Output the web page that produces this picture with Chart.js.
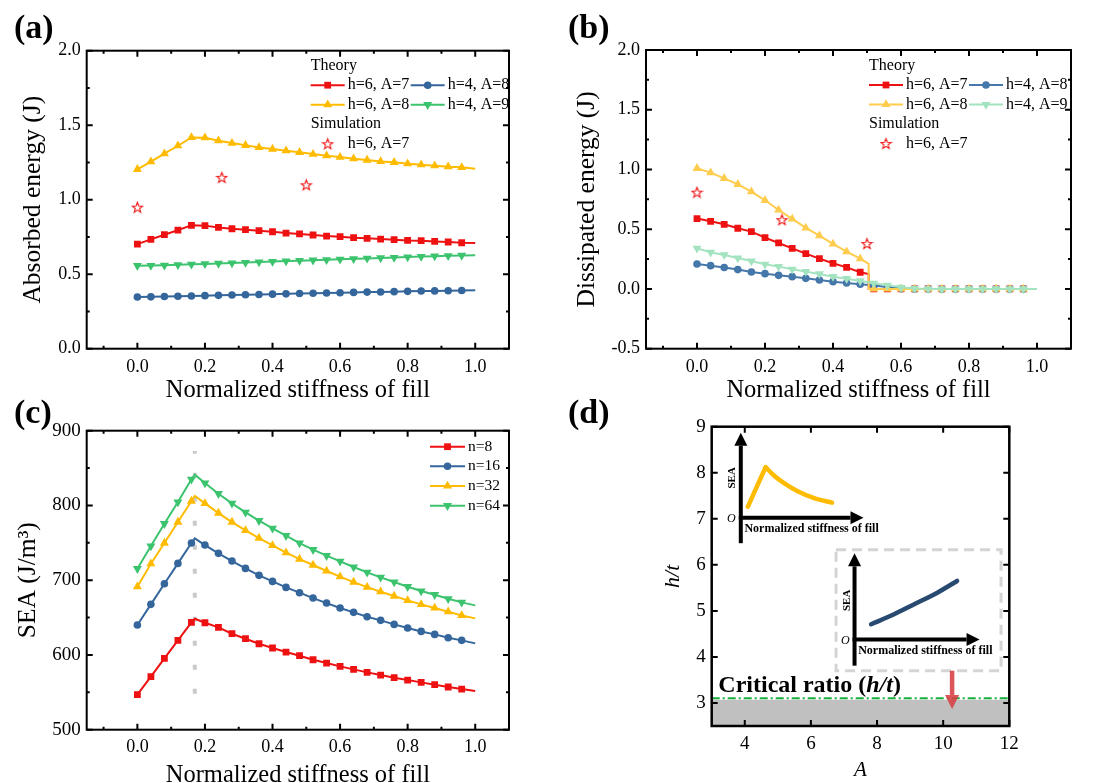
<!DOCTYPE html>
<html>
<head>
<meta charset="utf-8">
<script src="https://cdn.jsdelivr.net/npm/chart.js@4.4.1/dist/chart.umd.min.js"></script>
<style>
  body { margin: 0; background: #fff; }
  #wrap { position: relative; width: 1097px; height: 783px; overflow: hidden; }
  canvas { position: absolute; }
</style>
</head>
<body>
<div id="wrap">
  <canvas id="chartA" width="548" height="410" style="left:0;top:0"></canvas>
  <canvas id="chartB" width="549" height="410" style="left:548px;top:0"></canvas>
  <canvas id="chartC" width="548" height="410" style="left:0;top:390px"></canvas>
  <canvas id="chartD" width="549" height="410" style="left:548px;top:390px"></canvas>
</div>
<script>
// ---------- data ----------
// (a) absorbed energy, markers every 0.04, line to 1.0
const stiffA = [0, 0.04, 0.08, 0.12, 0.16, 0.2, 0.24, 0.28, 0.32, 0.36, 0.4, 0.44, 0.48,
  0.52, 0.56, 0.6, 0.64, 0.68, 0.72, 0.76, 0.8, 0.84, 0.88, 0.92, 0.96, 1.0];
const absH6A7 = [0.702, 0.734, 0.765, 0.796, 0.828, 0.826, 0.814, 0.805, 0.799, 0.792, 0.785, 0.776, 0.770,
  0.763, 0.756, 0.752, 0.745, 0.741, 0.736, 0.732, 0.727, 0.725, 0.720, 0.716, 0.711, 0.709];
const absH4A8 = [0.347, 0.348, 0.350, 0.352, 0.354, 0.356, 0.358, 0.360, 0.362, 0.364, 0.366, 0.368, 0.370,
  0.372, 0.374, 0.376, 0.378, 0.380, 0.381, 0.383, 0.385, 0.387, 0.388, 0.389, 0.391, 0.392];
const absH6A8 = [1.204, 1.255, 1.309, 1.362, 1.418, 1.416, 1.396, 1.380, 1.365, 1.351, 1.340, 1.329, 1.318,
  1.306, 1.295, 1.286, 1.275, 1.266, 1.257, 1.251, 1.242, 1.235, 1.228, 1.221, 1.217, 1.208];
const absH4A9 = [0.557, 0.558, 0.560, 0.563, 0.566, 0.569, 0.572, 0.575, 0.578, 0.582, 0.585, 0.588, 0.591,
  0.594, 0.597, 0.600, 0.603, 0.606, 0.609, 0.612, 0.615, 0.618, 0.621, 0.623, 0.626, 0.628];
const simStiff = [0, 0.25, 0.5];
const simAbs = [0.95, 1.15, 1.10];

// (b) dissipated energy, step drop near 0.505
const stiffB = [0, 0.04, 0.08, 0.12, 0.16, 0.2, 0.24, 0.28, 0.32, 0.36, 0.4, 0.44, 0.48, 0.505, 0.505,
  0.52, 0.56, 0.6, 0.64, 0.68, 0.72, 0.76, 0.8, 0.84, 0.88, 0.92, 0.96, 1.0];
const disH6A7 = [0.589, 0.566, 0.541, 0.508, 0.480, 0.430, 0.385, 0.340, 0.296, 0.254, 0.215, 0.181, 0.140, 0.125, 0,
  0, 0, 0, 0, 0, 0, 0, 0, 0, 0, 0, 0, 0];
const disH4A8 = [0.209, 0.195, 0.179, 0.162, 0.142, 0.128, 0.114, 0.103, 0.089, 0.075, 0.061, 0.050, 0.039, 0.033, 0.033,
  0.028, 0.017, 0.003, 0, 0, 0, 0, 0, 0, 0, 0, 0, 0];
const disH6A8 = [1.010, 0.974, 0.926, 0.876, 0.815, 0.742, 0.661, 0.586, 0.511, 0.446, 0.377, 0.312, 0.254, 0.210, 0,
  0, 0, 0, 0, 0, 0, 0, 0, 0, 0, 0, 0, 0];
const disH4A9 = [0.340, 0.307, 0.285, 0.259, 0.234, 0.206, 0.187, 0.165, 0.145, 0.126, 0.103, 0.086, 0.067, 0.056, 0.056,
  0.047, 0.031, 0.014, 0.003, 0, 0, 0, 0, 0, 0, 0, 0, 0];
const simDis = [0.81, 0.58, 0.38];

// (c) SEA for n = 8..64, peak at 0.17
const stiffC = [0, 0.04, 0.08, 0.12, 0.16, 0.17, 0.2, 0.24, 0.28, 0.32, 0.36, 0.4, 0.44, 0.48,
  0.52, 0.56, 0.6, 0.64, 0.68, 0.72, 0.76, 0.8, 0.84, 0.88, 0.92, 0.96, 1.0];
const seaN8 = [546.8, 570.9, 595.4, 619.5, 643.6, 648.5, 643.1, 636.9, 628.4, 621.7, 615.0, 609.3, 603.9, 599.0,
  593.6, 589.2, 584.7, 580.7, 576.7, 573.1, 569.6, 566.4, 563.3, 560.2, 557.1, 554.4, 551.7];
const seaN16 = [640.0, 667.7, 695.3, 722.5, 749.7, 756.0, 747.0, 735.9, 725.6, 715.8, 706.5, 698.4, 690.4, 683.3,
  676.1, 669.4, 662.8, 657.0, 651.2, 646.3, 640.9, 636.0, 631.5, 627.5, 623.1, 619.5, 615.5];
const seaN32 = [691.3, 722.1, 749.7, 777.8, 805.9, 812.6, 802.8, 789.8, 777.8, 766.6, 756.4, 746.6, 736.8, 728.3,
  720.3, 712.3, 704.7, 697.5, 690.8, 684.6, 678.8, 673.0, 667.7, 662.8, 657.8, 652.9, 648.9];
const seaN64 = [715.4, 745.7, 775.6, 804.6, 834.9, 841.1, 830.0, 815.7, 802.8, 790.7, 779.6, 769.3, 759.5, 749.7,
  740.8, 732.8, 725.2, 717.6, 710.5, 703.8, 697.5, 691.3, 685.5, 680.6, 675.2, 670.3, 666.3];
const peakStiff = 0.17;
const peakGuide = [548, 873];

// (d) h/t vs A map
const critRatio = 3.1;
const critShade = 3.07;
const inset1RiseA = [4.09, 4.63];
const inset1RiseSEA = [7.26, 8.12];
const inset1DecayA = [4.63, 4.9, 5.2, 5.6, 6.1, 6.64];
const inset1DecaySEA = [8.12, 7.93, 7.77, 7.60, 7.45, 7.35];
const inset2A = [7.82, 8.50, 9.11, 9.81, 10.42];
const inset2SEA = [4.71, 4.92, 5.14, 5.39, 5.65];

// tick labels
const ticksStiff = [0, 0.2, 0.4, 0.6, 0.8, 1.0];
const ticksAbs = [0, 0.5, 1.0, 1.5, 2.0];
const ticksDis = [-0.5, 0, 0.5, 1.0, 1.5, 2.0];
const ticksSEA = [500, 600, 700, 800, 900];
const ticksA = [4, 6, 8, 10, 12];
const ticksHt = [3, 4, 5, 6, 7, 8, 9];

// ---------- helpers ----------
const F = 'Liberation Serif';
Chart.defaults.font.family = F;
Chart.defaults.color = '#000';

const isMarker = x => x < 0.99 && Math.abs(x * 25 - Math.round(x * 25)) < 1e-6;
const RAD = { rect: 4.8, circle: 3.8, triangle: 5.2 };

function starImage(size, color) {
  const c = document.createElement('canvas');
  c.width = c.height = size;
  const g = c.getContext('2d');
  const R = size / 2 - 1, r = R * 0.42, cx = size / 2, cy = size / 2 + 0.6;
  g.strokeStyle = color; g.lineWidth = 1.1;
  g.beginPath();
  for (let i = 0; i < 10; i++) {
    const a = -Math.PI / 2 + i * Math.PI / 5, rr = i % 2 ? r : R;
    g.lineTo(cx + rr * Math.cos(a), cy + rr * Math.sin(a));
  }
  g.closePath(); g.stroke();
  return c;
}
const star = starImage(13, '#ee1111');

function series(label, xs, ys, color, style, rot, order) {
  return {
    label, order,
    data: xs.map((x, i) => ({ x, y: ys[i] })),
    borderColor: color, backgroundColor: color, borderWidth: 2,
    pointStyle: style, pointRotation: rot || 0,
    pointRadius: c => isMarker(xs[c.dataIndex]) ? RAD[style] : 0,
    pointBorderWidth: 0, pointBackgroundColor: color, tension: 0
  };
}
function simSeries(label, xs, ys) {
  return {
    label, order: 0, showLine: false,
    data: xs.map((x, i) => ({ x, y: ys[i] })),
    pointStyle: star, pointRadius: 6, borderColor: '#ee1111', backgroundColor: '#ee1111'
  };
}
function sketch(label, xs, ys, color, smooth) {
  return {
    label, order: 3, data: xs.map((a, i) => ({ x: a, y: ys[i] })),
    borderColor: color, borderWidth: 4.5, borderCapStyle: 'round', pointRadius: 0,
    cubicInterpolationMode: smooth ? 'monotone' : 'default', tension: smooth ? 0.4 : 0
  };
}

function axis(o) {
  return {
    type: 'linear', min: o.min, max: o.max,
    afterBuildTicks: s => { s.ticks = o.ticks.map(v => ({ value: v })); },
    afterFit: s => { if (s.isHorizontal()) s.height = o.size; else s.width = o.size; },
    grid: { display: false, drawTicks: false },
    border: { display: false },
    ticks: { font: { size: o.tickSize || 18 }, padding: o.tickPad, callback: o.fmt, color: '#000' },
    title: { display: true, text: o.title, font: o.titleFont, padding: o.titlePad, color: '#000' }
  };
}

// box frame with inward ticks on all four sides
const frame = {
  id: 'frame',
  afterDatasetsDraw(chart, args, opts) {
    const { ctx, chartArea: a, scales: { x, y } } = chart;
    ctx.save();
    ctx.strokeStyle = '#000';
    ctx.lineWidth = opts.width;
    ctx.strokeRect(a.left, a.top, a.right - a.left, a.bottom - a.top);
    ctx.lineWidth = opts.tickWidth;
    const mark = (scale, vals, len) => vals.forEach(v => {
      const p = scale.getPixelForValue(v);
      ctx.beginPath();
      if (scale === x) {
        ctx.moveTo(p, a.bottom); ctx.lineTo(p, a.bottom - len);
        ctx.moveTo(p, a.top); ctx.lineTo(p, a.top + len);
      } else {
        ctx.moveTo(a.left, p); ctx.lineTo(a.left + len, p);
        ctx.moveTo(a.right, p); ctx.lineTo(a.right - len, p);
      }
      ctx.stroke();
    });
    mark(x, x.ticks.map(t => t.value), opts.len);
    mark(y, y.ticks.map(t => t.value), opts.len);
    mark(x, opts.xMinor || [], opts.minorLen);
    mark(y, opts.yMinor || [], opts.minorLen);
    ctx.restore();
  }
};

// legend drawn from the datasets' own styles
const legendBox = {
  id: 'legendBox',
  afterDraw(chart, args, opts) {
    if (!opts.items) return;
    const { ctx, chartArea: a } = chart;
    ctx.save();
    ctx.font = opts.font; ctx.textBaseline = 'middle'; ctx.fillStyle = '#000';
    (opts.headers || []).forEach(h => ctx.fillText(h.text, a.left + h.dx, a.top + h.dy));
    opts.items.forEach(it => {
      const ds = chart.data.datasets[it.i];
      const x0 = a.left + it.dx, y0 = a.top + it.dy, xm = x0 + opts.sample / 2;
      if (ds.showLine !== false) {
        ctx.strokeStyle = ds.borderColor; ctx.lineWidth = ds.borderWidth;
        ctx.beginPath(); ctx.moveTo(x0, y0); ctx.lineTo(x0 + opts.sample, y0); ctx.stroke();
      }
      ctx.fillStyle = ds.backgroundColor;
      const r = typeof ds.pointStyle === 'string' ? RAD[ds.pointStyle] : ds.pointRadius;
      Chart.helpers.drawPoint(ctx, { pointStyle: ds.pointStyle, rotation: ds.pointRotation || 0, radius: r, borderWidth: 0 }, xm, y0);
      ctx.fillStyle = '#000';
      ctx.fillText(ds.label, x0 + opts.sample + opts.gap, y0);
    });
    ctx.restore();
  }
};

const panelTag = {
  id: 'panelTag',
  afterDraw(chart, args, opts) {
    const ctx = chart.ctx;
    ctx.save();
    ctx.font = 'bold 34px "' + F + '"';
    ctx.textBaseline = 'middle'; ctx.fillStyle = '#000';
    ctx.fillText(opts.text, opts.x, opts.y);
    ctx.restore();
  }
};

function arrow(ctx, x0, y0, x1, y1, w, hl, hw, color) {
  const ang = Math.atan2(y1 - y0, x1 - x0), c = Math.cos(ang), s = Math.sin(ang);
  const bx = x1 - hl * c, by = y1 - hl * s;
  ctx.strokeStyle = color; ctx.fillStyle = color; ctx.lineWidth = w; ctx.lineCap = 'butt';
  ctx.beginPath(); ctx.moveTo(x0, y0); ctx.lineTo(bx, by); ctx.stroke();
  ctx.beginPath(); ctx.moveTo(x1, y1);
  ctx.lineTo(bx - hw * s, by + hw * c); ctx.lineTo(bx + hw * s, by - hw * c);
  ctx.closePath(); ctx.fill();
}

// sketch insets, arrow and caption of panel (d)
const decorD = {
  id: 'decorD',
  beforeDatasetsDraw(chart) {
    const { ctx, scales: { x, y } } = chart;
    const px = v => x.getPixelForValue(v), py = v => y.getPixelForValue(v);
    ctx.save();
    ctx.setLineDash([10, 6]); ctx.strokeStyle = '#d4d4d4'; ctx.lineWidth = 3;
    ctx.strokeRect(px(6.76), py(6.33), px(11.75) - px(6.76), py(3.70) - py(6.33));
    ctx.restore();
  },
  afterDatasetsDraw(chart) {
    const { ctx, scales: { x, y } } = chart;
    const px = v => x.getPixelForValue(v), py = v => y.getPixelForValue(v);
    ctx.save();
    arrow(ctx, px(3.88), py(6.47), px(3.88), py(8.87), 4, 13, 6.5, '#000');
    arrow(ctx, px(3.88) - 2, py(7.02), px(7.59), py(7.02), 4, 13, 6.5, '#000');
    arrow(ctx, px(7.32), py(3.81), px(7.32), py(6.25), 4, 13, 6.5, '#000');
    arrow(ctx, px(7.32) - 2, py(4.38), px(11.1), py(4.38), 4, 13, 6.5, '#000');

    ctx.fillStyle = '#000'; ctx.textBaseline = 'middle';
    ctx.font = 'bold 12px "' + F + '"';
    ctx.fillText('Normalized stiffness of fill', px(3.99), py(6.78));
    ctx.fillText('Normalized stiffness of fill', px(7.43), py(4.14));
    ctx.font = 'italic 12px "' + F + '"';
    ctx.textAlign = 'center';
    ctx.fillText('O', px(3.59), py(6.99));
    ctx.fillText('O', px(7.04), py(4.36));
    ctx.font = 'bold 11px "' + F + '"';
    [[3.62, 7.89], [7.09, 5.23]].forEach(([a, b]) => {
      ctx.save(); ctx.translate(px(a), py(b)); ctx.rotate(-Math.PI / 2);
      ctx.fillText('SEA', 0, 0); ctx.restore();
    });

    arrow(ctx, px(10.27), py(3.70), px(10.27), py(2.87), 4.5, 14, 7, 'rgba(214,62,66,0.88)');

    ctx.fillStyle = '#000';
    ctx.textAlign = 'left';
    let tx = px(3.2);
    const ty = py(3.38);
    [['bold', 'Critical ratio ('], ['italic bold', 'h/t'], ['bold', ')']].forEach(([st, t]) => {
      ctx.font = st + ' 24px "' + F + '"';
      ctx.fillText(t, tx, ty);
      tx += ctx.measureText(t).width;
    });
    ctx.restore();
  }
};

const base = { responsive: false, animation: false, events: [] };
const fmt1 = v => v.toFixed(1);
const stiffMinor = [-0.1, 0.1, 0.3, 0.5, 0.7, 0.9];
const xTitleFont = { size: 24.5 };
const yTitleFont = { size: 25.5 };

// ---------- (a) ----------
new Chart(document.getElementById('chartA'), {
  type: 'line',
  data: { datasets: [
    series('h=6, A=7', stiffA, absH6A7, '#ee1111', 'rect', 0, 4),
    series('h=4, A=8', stiffA, absH4A8, '#34669c', 'circle', 0, 3),
    series('h=6, A=8', stiffA, absH6A8, '#ffbb00', 'triangle', 0, 2),
    series('h=4, A=9', stiffA, absH4A9, '#3cc36e', 'triangle', 180, 1),
    simSeries('h=6, A=7', simStiff, simAbs)
  ] },
  options: Object.assign({}, base, {
    layout: { padding: { top: 50.7, right: 39, left: 0, bottom: 0 } },
    scales: {
      x: axis({ min: -0.15, max: 1.1, ticks: ticksStiff, size: 61.3, tickPad: 8, fmt: fmt1,
        title: 'Normalized stiffness of fill', titleFont: xTitleFont, titlePad: { top: 0, bottom: 4.3 } }),
      y: axis({ min: 0, max: 2, ticks: ticksAbs, size: 86.7, tickPad: 6, fmt: fmt1,
        title: 'Absorbed energy (J)', titleFont: yTitleFont, titlePad: { top: 17.7, bottom: 0 } })
    },
    plugins: {
      legend: { display: false }, tooltip: { enabled: false },
      frame: { width: 2, tickWidth: 2, len: 6, minorLen: 3, xMinor: stiffMinor, yMinor: [0.25, 0.75, 1.25, 1.75] },
      legendBox: { font: '16px "' + F + '"', sample: 34, gap: 3,
        headers: [{ text: 'Theory', dx: 224, dy: 15.5 }, { text: 'Simulation', dx: 224, dy: 73.5 }],
        items: [{ i: 0, dx: 224, dy: 34.5 }, { i: 1, dx: 324, dy: 34.5 }, { i: 2, dx: 224, dy: 54 },
          { i: 3, dx: 324, dy: 54 }, { i: 4, dx: 224, dy: 93 }] },
      panelTag: { text: '(a)', x: 14, y: 29 }
    }
  }),
  plugins: [frame, legendBox, panelTag]
});

// ---------- (b) ----------
new Chart(document.getElementById('chartB'), {
  type: 'line',
  data: { datasets: [
    series('h=6, A=7', stiffB, disH6A7, '#ee1111', 'rect', 0, 4),
    series('h=4, A=8', stiffB, disH4A8, '#4677aa', 'circle', 0, 3),
    series('h=6, A=8', stiffB, disH6A8, '#ffcc4d', 'triangle', 0, 2),
    series('h=4, A=9', stiffB, disH4A9, '#a3e3c0', 'triangle', 180, 1),
    simSeries('h=6, A=7', simStiff, simDis)
  ] },
  options: Object.assign({}, base, {
    layout: { padding: { top: 50, right: 26, left: 0, bottom: 0 } },
    scales: {
      x: axis({ min: -0.15, max: 1.1, ticks: ticksStiff, size: 61.3, tickPad: 8, fmt: fmt1,
        title: 'Normalized stiffness of fill', titleFont: xTitleFont, titlePad: { top: 0, bottom: 4.3 } }),
      y: axis({ min: -0.5, max: 2, ticks: ticksDis, size: 98, tickPad: 6, fmt: fmt1,
        title: 'Dissipated energy (J)', titleFont: yTitleFont, titlePad: { top: 23.7, bottom: 0 } })
    },
    plugins: {
      legend: { display: false }, tooltip: { enabled: false },
      frame: { width: 2, tickWidth: 2, len: 6, minorLen: 3, xMinor: stiffMinor, yMinor: [-0.25, 0.25, 0.75, 1.25, 1.75] },
      legendBox: { font: '16px "' + F + '"', sample: 34, gap: 3,
        headers: [{ text: 'Theory', dx: 223, dy: 16 }, { text: 'Simulation', dx: 223, dy: 74 }],
        items: [{ i: 0, dx: 223, dy: 35 }, { i: 1, dx: 323, dy: 35 }, { i: 2, dx: 223, dy: 54.5 },
          { i: 3, dx: 323, dy: 54.5 }, { i: 4, dx: 223, dy: 93.5 }] },
      panelTag: { text: '(b)', x: 20, y: 29 }
    }
  }),
  plugins: [frame, legendBox, panelTag]
});

// ---------- (c) ----------
new Chart(document.getElementById('chartC'), {
  type: 'line',
  data: { datasets: [
    series('n=8', stiffC, seaN8, '#ee1111', 'rect', 0, 4),
    series('n=16', stiffC, seaN16, '#34669c', 'circle', 0, 3),
    series('n=32', stiffC, seaN32, '#ffbb00', 'triangle', 0, 2),
    series('n=64', stiffC, seaN64, '#3cc36e', 'triangle', 180, 1),
    { label: 'peak', order: 9, data: peakGuide.map(v => ({ x: peakStiff, y: v })),
      borderColor: '#cacaca', borderWidth: 4, borderDash: [5, 19], pointRadius: 0 }
  ] },
  options: Object.assign({}, base, {
    layout: { padding: { top: 40.7, right: 39, left: 0, bottom: 0 } },
    scales: {
      x: axis({ min: -0.15, max: 1.1, ticks: ticksStiff, size: 70.3, tickPad: 7, fmt: fmt1,
        title: 'Normalized stiffness of fill', titleFont: xTitleFont, titlePad: { top: 0, bottom: 10 } }),
      y: axis({ min: 500, max: 900, ticks: ticksSEA, size: 86.7, tickPad: 6, tickSize: 19, fmt: v => String(v),
        title: 'SEA (J/m\u00B3)', titleFont: yTitleFont, titlePad: { top: 12.7, bottom: 0 } })
    },
    plugins: {
      legend: { display: false }, tooltip: { enabled: false },
      frame: { width: 2, tickWidth: 2, len: 6, minorLen: 3, xMinor: stiffMinor, yMinor: [550, 650, 750, 850] },
      legendBox: { font: '15.5px "' + F + '"', sample: 35, gap: 3,
        items: [{ i: 0, dx: 343.3, dy: 16 }, { i: 1, dx: 343.3, dy: 35.6 }, { i: 2, dx: 343.3, dy: 55.3 },
          { i: 3, dx: 343.3, dy: 75 }] },
      panelTag: { text: '(c)', x: 14, y: 24 }
    }
  }),
  plugins: [frame, legendBox, panelTag]
});

// ---------- (d) ----------
new Chart(document.getElementById('chartD'), {
  type: 'line',
  data: { datasets: [
    { label: 'subcritical', order: 9, data: [{ x: 3, y: critShade }, { x: 12, y: critShade }],
      fill: 'start', backgroundColor: '#c0c0c0', borderWidth: 0, pointRadius: 0 },
    { label: 'critical', order: 5, data: [{ x: 3, y: critRatio }, { x: 12, y: critRatio }],
      borderColor: '#17b03c', borderWidth: 2, borderDash: [8, 3, 2, 3], pointRadius: 0 },
    sketch('inset rise', inset1RiseA, inset1RiseSEA, '#ffbb00', false),
    sketch('inset decay', inset1DecayA, inset1DecaySEA, '#ffbb00', true),
    sketch('inset growth', inset2A, inset2SEA, '#284a70', true)
  ] },
  options: Object.assign({}, base, {
    layout: { padding: { top: 36.7, right: 87.7, left: 0, bottom: 0 } },
    scales: {
      x: axis({ min: 3, max: 12, ticks: ticksA, size: 74, tickPad: 7, tickSize: 19, fmt: v => String(v),
        title: 'A', titleFont: { size: 21, style: 'italic' }, titlePad: { top: 0, bottom: 17.4 } }),
      y: axis({ min: 2.5, max: 9, ticks: ticksHt, size: 163.7, tickPad: 6, tickSize: 19, fmt: v => String(v),
        title: 'h/t', titleFont: { size: 22, style: 'italic' }, titlePad: { top: 111.8, bottom: 0 } })
    },
    plugins: {
      legend: { display: false }, tooltip: { enabled: false },
      frame: { width: 2.5, tickWidth: 2, len: 6, minorLen: 3 },
      panelTag: { text: '(d)', x: 20, y: 24 }
    }
  }),
  plugins: [decorD, frame, panelTag]
});
</script>
</body>
</html>
